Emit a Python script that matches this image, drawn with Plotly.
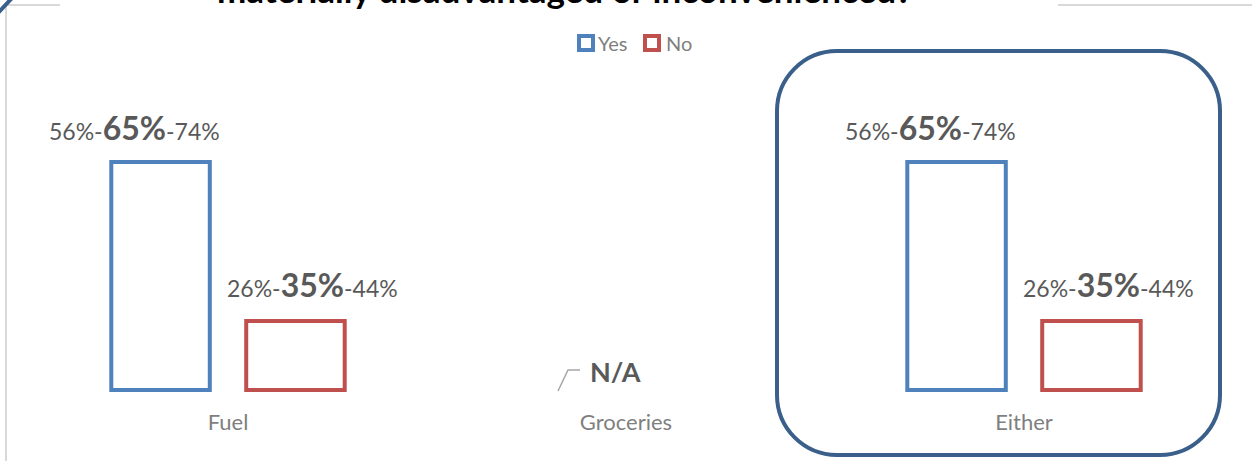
import plotly.graph_objects as go

# ---- data ----
categories = ["Fuel", "Groceries", "Either"]
yes_mid = [65, None, 65]
yes_lo = [56, None, 56]
yes_hi = [74, None, 74]
no_mid = [35, None, 35]
no_lo = [26, None, 26]
no_hi = [44, None, 44]
na_label = "N/A"
series_names = ["Yes", "No"]
axis_floor = 22  # value axis starts here

# ---- layout helpers (pixel -> paper) ----
W, H = 1252, 461
L, R, T, B = 29, 1223, 60, 393
def px(x):
    return (x - L) / (R - L)
def py(y):
    return (B - y) / (B - T)

BLUE = "#4F81BD"
RED = "#C0504D"
DARK = "#3A5F8B"
GREY_TXT = "#595959"
AX_TXT = "#7F7F7F"

fig = go.Figure()
for name, vals, col in [("Yes", yes_mid, BLUE), ("No", no_mid, RED)]:
    fig.add_trace(go.Bar(
        x=categories,
        y=[None if v is None else v - axis_floor for v in vals],
        base=axis_floor,
        name=name,
        marker=dict(color="white", line=dict(color=col, width=4)),
        showlegend=False,
    ))

off = 0.1696
annotations = []
def lbl(lo, mid, hi):
    return (f"{lo}%-<b><span style='font-size:32px'>{mid}%</span></b>-{hi}%")

for i in range(len(categories)):
    if yes_mid[i] is None:
        annotations.append(dict(x=i, y=axis_floor, xref="x", yref="y", text=f"<b>{na_label}</b>",
                                showarrow=False, xanchor="left", yanchor="middle",
                                xshift=-38, yshift=19,
                                font=dict(size=27, color=GREY_TXT, family="Lato")))
        continue
    annotations.append(dict(x=i - off, y=yes_mid[i], xref="x", yref="y",
                            text=lbl(yes_lo[i], yes_mid[i], yes_hi[i]), showarrow=False,
                            xanchor="center", yanchor="bottom", xshift=-26, yshift=13,
                            font=dict(size=23, color=GREY_TXT, family="Lato")))
    annotations.append(dict(x=i + off, y=no_mid[i], xref="x", yref="y",
                            text=lbl(no_lo[i], no_mid[i], no_hi[i]), showarrow=False,
                            xanchor="center", yanchor="bottom", xshift=17, yshift=15,
                            font=dict(size=23, color=GREY_TXT, family="Lato")))

# title (cropped at top, as in the reference)
annotations.append(dict(x=px(564), y=py(12), xref="paper", yref="paper",
                        text="<b>materially disadvantaged or inconvenienced?</b>",
                        showarrow=False, xanchor="center", yanchor="bottom",
                        font=dict(size=35, color="black", family="Lato")))
# legend
annotations.append(dict(x=px(596), y=py(43), xref="paper", yref="paper", text=series_names[0],
                        showarrow=False, xanchor="left", yanchor="middle",
                        font=dict(size=20, color=AX_TXT, family="Lato")))
annotations.append(dict(x=px(664), y=py(43), xref="paper", yref="paper", text=series_names[1],
                        showarrow=False, xanchor="left", yanchor="middle",
                        font=dict(size=20, color=AX_TXT, family="Lato")))

shapes = []
# legend squares
for x0, col in [(579, BLUE), (645, RED)]:
    shapes.append(dict(type="rect", xref="paper", yref="paper",
                       x0=px(x0), x1=px(x0 + 14), y0=py(36), y1=py(50),
                       line=dict(color=col, width=4), fillcolor="white"))
# chart frame lines (grey)
FR = "#D9D9D9"
shapes.append(dict(type="line", xref="paper", yref="paper", x0=px(6), x1=px(60), y0=py(5), y1=py(5), line=dict(color=FR, width=2)))
shapes.append(dict(type="line", xref="paper", yref="paper", x0=px(1058), x1=px(1252), y0=py(5), y1=py(5), line=dict(color=FR, width=2)))
shapes.append(dict(type="line", xref="paper", yref="paper", x0=px(6), x1=px(6), y0=py(5), y1=py(461), line=dict(color=FR, width=2)))
# blue corner fragment
shapes.append(dict(type="line", xref="paper", yref="paper", x0=px(-2), x1=px(12), y0=py(13), y1=py(-2), line=dict(color=DARK, width=4)))
# N/A leader line
shapes.append(dict(type="path", xref="paper", yref="paper",
                   path=f"M {px(558)},{py(391)} L {px(568)},{py(370)} L {px(580)},{py(370)}",
                   line=dict(color="#A6A6A6", width=1.5)))
# rounded highlight box around "Either"
x0, x1, y0, y1, r = 777, 1220, 51, 455, 60
k = 0.5523 * r
p = [f"M {px(x0 + r)},{py(y0)}",
     f"L {px(x1 - r)},{py(y0)}",
     f"C {px(x1 - r + k)},{py(y0)} {px(x1)},{py(y0 + r - k)} {px(x1)},{py(y0 + r)}",
     f"L {px(x1)},{py(y1 - r)}",
     f"C {px(x1)},{py(y1 - r + k)} {px(x1 - r + k)},{py(y1)} {px(x1 - r)},{py(y1)}",
     f"L {px(x0 + r)},{py(y1)}",
     f"C {px(x0 + r - k)},{py(y1)} {px(x0)},{py(y1 - r + k)} {px(x0)},{py(y1 - r)}",
     f"L {px(x0)},{py(y0 + r)}",
     f"C {px(x0)},{py(y0 + r - k)} {px(x0 + r - k)},{py(y0)} {px(x0 + r)},{py(y0)} Z"]
shapes.append(dict(type="path", xref="paper", yref="paper", path=" ".join(p),
                   line=dict(color=DARK, width=4), fillcolor="rgba(0,0,0,0)", layer="above"))

fig.update_layout(
    width=W, height=H,
    margin=dict(l=L, r=W - R, t=T, b=H - B, pad=0),
    paper_bgcolor="white", plot_bgcolor="white",
    barmode="group", bargap=0.322, bargroupgap=0.27,
    annotations=annotations, shapes=shapes,
    showlegend=False,
    xaxis=dict(range=[-0.5, 2.5], showgrid=False, zeroline=False, showline=False, ticks="",
               tickfont=dict(size=22, color=AX_TXT, family="Lato"), ticklabelstandoff=14),
    yaxis=dict(range=[axis_floor - 3 / 5.3, axis_floor + (B - 3 - T) / 5.3], visible=False,
               showgrid=False, zeroline=False),
    font=dict(family="Lato"),
)
fig.write_html("out.html", config={"displayModeBar": False},
               post_script="document.body.style.margin='0px';")
